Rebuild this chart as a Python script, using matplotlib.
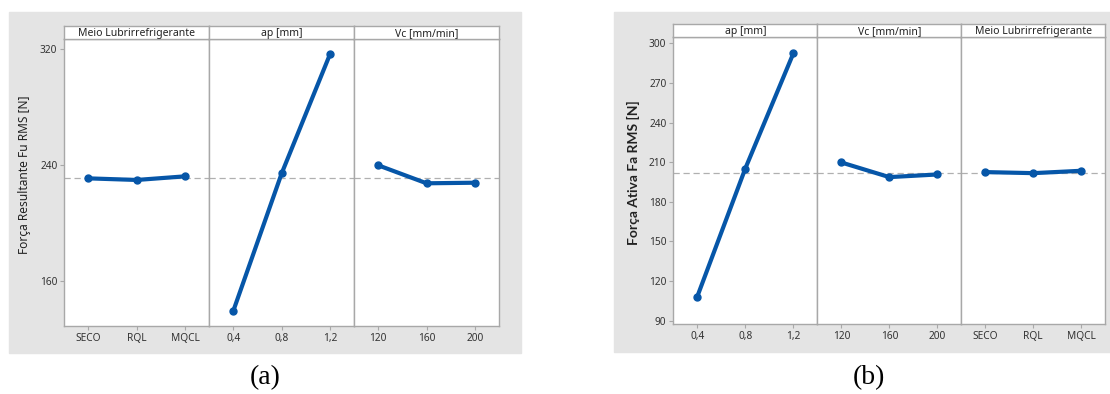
import matplotlib
matplotlib.use("Agg")
import matplotlib.pyplot as plt
from matplotlib.patches import Rectangle

# Main effects plots: resultant force Fu (a) and active force Fa (b)
meio_levels = ["SECO", "RQL", "MQCL"]
ap_levels = ["0,4", "0,8", "1,2"]
vc_levels = ["120", "160", "200"]

fu_meio = [230.6, 229.5, 232.0]
fu_ap = [139.3, 234.0, 316.1]
fu_vc = [239.6, 227.2, 227.6]
fu_mean = 230.7

fa_ap = [108.3, 205.2, 292.3]
fa_vc = [209.8, 198.7, 200.7]
fa_meio = [202.5, 201.7, 203.5]
fa_mean = 202.0

W, H = 1110, 394
BLUE = "#0656a8"
EDGE = "#a8a8a8"
TXT = "#333333"
BG = "#e4e4e4"

plt.rcParams['font.family'] = ['Noto Sans', 'DejaVu Sans']

fig = plt.figure(figsize=(W / 100, H / 100), dpi=100)


def box(x0, y0, x1, y1):
    # pixel box (top-left origin) -> figure fraction rect
    return [x0 / W, 1 - y1 / H, (x1 - x0) / W, (y1 - y0) / H]


def panel(x0, x1, ytop, ystrip, ybot, factors, mean, ylim, yticks, ylabel, bold):
    step = (x1 - x0) / 3
    axes = []
    for i, (name, levels, vals) in enumerate(factors):
        ax = fig.add_axes(box(x0 + i * step, ystrip, x0 + (i + 1) * step, ybot))
        ax.plot(range(3), vals, color=BLUE, lw=3.0, marker="o", ms=5,
                solid_capstyle="round", zorder=3)
        ax.axhline(mean, color="#b0b0b0", lw=0.9, ls=(0, (5, 3)), zorder=2)
        ax.set_xlim(-0.5, 2.5)
        ax.set_ylim(*ylim)
        ax.set_xticks(range(3))
        ax.set_xticklabels(levels)
        ax.set_yticks(yticks)
        ax.tick_params(colors=EDGE, labelcolor=TXT, labelsize=7.3, length=3,
                       width=0.8, pad=2)
        for sp in ax.spines.values():
            sp.set_color(EDGE)
            sp.set_linewidth(1.0)
        if i > 0:
            ax.tick_params(axis="y", left=False, labelleft=False)
        # facet strip on top
        st = fig.add_axes(box(x0 + i * step, ytop, x0 + (i + 1) * step, ystrip))
        st.set_xticks([])
        st.set_yticks([])
        for sp in st.spines.values():
            sp.set_color(EDGE)
            sp.set_linewidth(1.0)
        st.text(0.5, 0.42, name, ha="center", va="center", fontsize=7.5,
                color="#222222")
        axes.append(ax)
    if bold:
        axes[0].set_ylabel(ylabel, fontsize=10, color="#222222",
                           family=["Lato", "DejaVu Sans"], fontweight="bold")
    else:
        axes[0].set_ylabel(ylabel, fontsize=8.6, color="#222222")
    axes[0].yaxis.set_label_coords(-0.23, 0.526)
    return axes


# gray panel backgrounds, kept beneath the axes
fig.patches.append(Rectangle((9 / W, 1 - 352.7 / H), (521 - 9) / W, (352.7 - 12) / H,
                             transform=fig.transFigure, color=BG, zorder=-5))
fig.patches.append(Rectangle((614 / W, 1 - 352 / H), (1110 - 614) / W, (352 - 12) / H,
                             transform=fig.transFigure, color=BG, zorder=-5))

panel(64.3, 499, 26, 39, 326,
      [("Meio Lubrirrefrigerante", meio_levels, fu_meio),
       ("ap [mm]", ap_levels, fu_ap),
       ("Vc [mm/min]", vc_levels, fu_vc)],
      fu_mean, (128.8, 326.7), [160, 240, 320],
      "Força Resultante Fu RMS [N]", False)

panel(673.3, 1105.3, 24, 36.7, 324,
      [("ap [mm]", ap_levels, fa_ap),
       ("Vc [mm/min]", vc_levels, fa_vc),
       ("Meio Lubrirrefrigerante", meio_levels, fa_meio)],
      fa_mean, (87.5, 305.0), [90, 120, 150, 180, 210, 240, 270, 300],
      "Força Ativa Fa RMS [N]", True)

fig.text(265 / W, 1 - 378 / H, "(a)", ha="center", va="center",
         fontsize=20, family="Liberation Serif")
fig.text(869 / W, 1 - 378 / H, "(b)", ha="center", va="center",
         fontsize=20, family="Liberation Serif")

fig.savefig("out.png", dpi=100)
